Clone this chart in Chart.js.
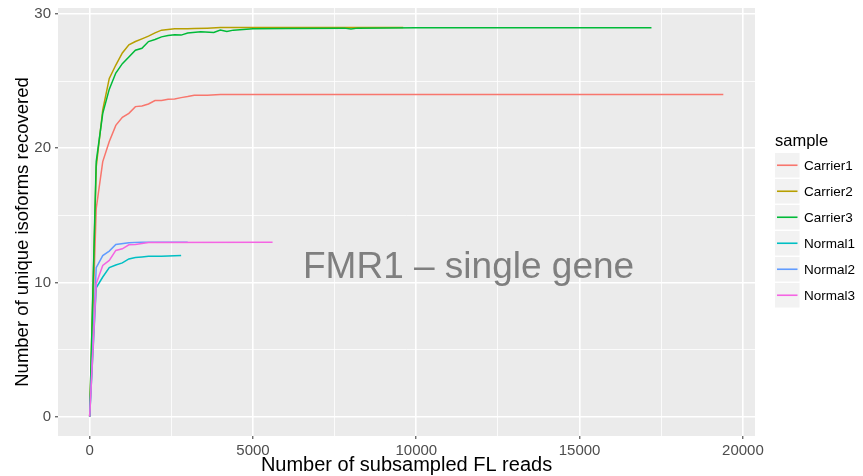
<!DOCTYPE html>
<html>
<head>
<meta charset="utf-8">
<script src="https://cdn.jsdelivr.net/npm/chart.js@4.4.1/dist/chart.umd.min.js"></script>
<style>
  body { margin: 0; background: #fff; }
  canvas { display: block; }
</style>
</head>
<body>
<canvas id="Chart" width="863" height="476"></canvas>
<script>
// values
var samples = ['Carrier1', 'Carrier2', 'Carrier3', 'Normal1', 'Normal2', 'Normal3'];
var colours = ['#F8766D', '#B79F00', '#00BA38', '#00BFC4', '#619CFF', '#F564E3'];

var carrier1Reads = [0, 200, 400, 600, 800, 1000, 1200, 1400, 1600, 1800, 2000, 2200, 2400, 2600, 2800, 3000, 3200, 3600, 4000, 5000, 8000, 12000, 16000, 19400];
var carrier1Isoforms = [0, 15.5, 19, 20.5, 21.7, 22.3, 22.6, 23.1, 23.15, 23.3, 23.55, 23.55, 23.65, 23.67, 23.77, 23.85, 23.95, 23.95, 24, 24, 24, 24, 24, 24];

var carrier2Reads = [0, 200, 400, 600, 800, 1000, 1200, 1400, 1600, 1800, 2000, 2200, 2400, 2600, 2800, 3000, 3200, 3600, 4000, 5000, 9600];
var carrier2Isoforms = [0, 18.6, 22.85, 25.2, 26.2, 27.1, 27.7, 27.95, 28.15, 28.35, 28.6, 28.8, 28.85, 28.9, 28.9, 28.9, 28.92, 28.95, 29, 29, 29];

var carrier3Reads = [0, 200, 400, 600, 800, 1000, 1200, 1400, 1600, 1800, 2000, 2200, 2400, 2600, 2800, 3000, 3400, 3800, 4000, 4200, 4400, 5000, 6000, 7800, 8000, 8200, 10000, 14000, 17200];
var carrier3Isoforms = [0, 19, 22.6, 24.4, 25.6, 26.3, 26.8, 27.3, 27.45, 27.95, 28.1, 28.3, 28.4, 28.45, 28.43, 28.58, 28.68, 28.63, 28.8, 28.7, 28.8, 28.9, 28.93, 28.95, 28.88, 28.95, 28.97, 28.98, 28.98];

var normal1Reads = [0, 200, 400, 600, 800, 1000, 1200, 1400, 1600, 1800, 2200, 2800];
var normal1Isoforms = [0, 9.6, 10.4, 11.1, 11.3, 11.45, 11.75, 11.85, 11.9, 11.94, 11.95, 12];

var normal2Reads = [0, 200, 400, 600, 800, 1200, 1600, 3000];
var normal2Isoforms = [0, 11.1, 12.0, 12.33, 12.83, 12.96, 13, 13];

var normal3Reads = [0, 200, 400, 600, 800, 1000, 1200, 1400, 1600, 1800, 5600];
var normal3Isoforms = [0, 9.9, 11.26, 11.64, 12.38, 12.5, 12.8, 12.83, 12.9, 12.97, 13];

var xMajor = [0, 5000, 10000, 15000, 20000];
var xMinor = [2500, 7500, 12500, 17500];
var yMajor = [0, 10, 20, 30];
var yMinor = [5, 15, 25];

var xTitle = 'Number of subsampled FL reads';
var yTitle = 'Number of unique isoforms recovered';
var legendTitle = 'sample';
var noteText = 'FMR1 \u2013 single gene';
var noteAt = [11600, 11.1];

var readsList = [carrier1Reads, carrier2Reads, carrier3Reads, normal1Reads, normal2Reads, normal3Reads];
var isoformsList = [carrier1Isoforms, carrier2Isoforms, carrier3Isoforms, normal1Isoforms, normal2Isoforms, normal3Isoforms];

var font = '"Liberation Sans", Arial, Helvetica, sans-serif';

var datasets = samples.map(function(name, i) {
	return {
		label: name,
		data: readsList[i].map(function(r, j) { return { x: r, y: isoformsList[i][j] } }),
		borderColor: colours[i],
		borderWidth: 1.5,
		pointRadius: 0,
		fill: false,
		tension: 0,
		order: samples.length - i   // last sample on top, like ggplot
	}
});

function isMajor(list, v) { return list.indexOf(v) >= 0 }

var ggLook = {
	id: 'ggLook',
	beforeDraw: function(chart) {
		var a = chart.chartArea, ctx = chart.ctx;
		ctx.save();
		ctx.fillStyle = '#fff';
		ctx.fillRect(0, 0, chart.width, chart.height);
		ctx.fillStyle = '#EBEBEB';
		ctx.fillRect(a.left, a.top, a.right - a.left, a.bottom - a.top);
		ctx.restore();
	},
	afterDatasetsDraw: function(chart) {
		var ctx = chart.ctx;
		var px = chart.scales.x.getPixelForValue(noteAt[0]);
		var py = chart.scales.y.getPixelForValue(noteAt[1]);
		ctx.save();
		ctx.font = '37px ' + font;
		ctx.fillStyle = '#7F7F7F';
		ctx.textAlign = 'center';
		ctx.textBaseline = 'middle';
		ctx.fillText(noteText, px, py);
		ctx.restore();
	},
	afterDraw: function(chart) {
		var a = chart.chartArea, ctx = chart.ctx;
		ctx.save();
		ctx.fillStyle = '#000';
		ctx.font = '20px ' + font;
		ctx.textAlign = 'center';
		ctx.textBaseline = 'alphabetic';
		ctx.fillText(xTitle, (a.left + a.right) / 2, 471);

		ctx.save();
		ctx.font = '18.5px ' + font;
		ctx.translate(28, 232);
		ctx.rotate(-Math.PI / 2);
		ctx.fillText(yTitle, 0, 0);
		ctx.restore();

		// legend
		var lx = 775, ly = 153, key = 26;
		ctx.textAlign = 'left';
		ctx.font = '16.5px ' + font;
		ctx.fillText(legendTitle, lx, 146);
		ctx.font = '13.5px ' + font;
		ctx.textBaseline = 'middle';
		samples.forEach(function(name, i) {
			var y = ly + i * key;
			ctx.fillStyle = '#F2F2F2';
			ctx.fillRect(lx, y, key - 1.5, key - 1.5);
			ctx.strokeStyle = colours[i];
			ctx.lineWidth = 1.6;
			ctx.beginPath();
			ctx.moveTo(lx + 2, y + key / 2 - 0.75);
			ctx.lineTo(lx + key - 3.5, y + key / 2 - 0.75);
			ctx.stroke();
			ctx.fillStyle = '#000';
			ctx.fillText(name, lx + 29, y + key / 2);
		});
		ctx.restore();
	}
};

var ctx = document.getElementById('Chart').getContext('2d');
var chart = new Chart(ctx, {
	type: 'line',
	data: { datasets: datasets },
	options: {
		responsive: false,
		animation: false,
		events: [],
		devicePixelRatio: 1,
		layout: { padding: { left: 0, right: 108, top: 8, bottom: 0 } },
		plugins: { legend: { display: false }, tooltip: { enabled: false } },
		scales: {
			x: {
				type: 'linear',
				min: -970,
				max: 20370,
				afterBuildTicks: function(s) {
					s.ticks = xMajor.concat(xMinor).sort(function(a, b) { return a - b }).map(function(v) { return { value: v } });
				},
				afterFit: function(s) { s.height = 40; s.paddingLeft = 0; s.paddingRight = 0 },
				border: { display: false },
				grid: {
					color: '#fff',
					lineWidth: function(c) { return isMajor(xMajor, c.tick.value) ? 1.6 : 0.8 },
					tickLength: 3,
					tickColor: function(c) { return isMajor(xMajor, c.tick.value) ? '#333' : 'rgba(0,0,0,0)' },
					tickWidth: 1
				},
				ticks: {
					autoSkip: false,
					maxRotation: 0,
					padding: 3,
					color: '#4D4D4D',
					font: { family: font, size: 15 },
					callback: function(v) { return isMajor(xMajor, v) ? String(v) : '' }
				}
			},
			y: {
				type: 'linear',
				min: -1.45,
				max: 30.45,
				afterBuildTicks: function(s) {
					s.ticks = yMajor.concat(yMinor).sort(function(a, b) { return a - b }).map(function(v) { return { value: v } });
				},
				afterFit: function(s) { s.width = 58; s.paddingTop = 0; s.paddingBottom = 0 },
				border: { display: false },
				grid: {
					color: '#fff',
					lineWidth: function(c) { return isMajor(yMajor, c.tick.value) ? 1.6 : 0.8 },
					tickLength: 3,
					tickColor: function(c) { return isMajor(yMajor, c.tick.value) ? '#333' : 'rgba(0,0,0,0)' },
					tickWidth: 1
				},
				ticks: {
					autoSkip: false,
					padding: 4,
					color: '#4D4D4D',
					font: { family: font, size: 15 },
					callback: function(v) { return isMajor(yMajor, v) ? String(v) : '' }
				}
			}
		}
	},
	plugins: [ggLook]
});
</script>
</body>
</html>
